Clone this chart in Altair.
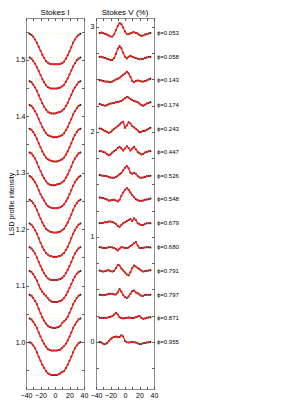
import altair as alt
import pandas as pd

# ---------------- data ----------------
velocity = [-35, -32.5, -30, -27.5, -25, -22.5, -20, -17.5, -15, -12.5, -10, -7.5, -5, -2.5, 0,
            2.5, 5, 7.5, 10, 12.5, 15, 17.5, 20, 22.5, 25, 27.5, 30, 32.5, 35]

phases = ["0.053", "0.058", "0.143", "0.174", "0.243", "0.447", "0.526",
          "0.548", "0.679", "0.680", "0.791", "0.797", "0.871", "0.955"]

# continuum level of each Stokes I profile (stacked, top to bottom)
i_continuum = [1.546, 1.504, 1.462, 1.420, 1.378, 1.336, 1.294,
               1.252, 1.210, 1.168, 1.126, 1.084, 1.042, 1.000]
# zero level of each Stokes V profile (stacked, top to bottom)
v_baseline = [2.94, 2.71, 2.49, 2.26, 2.03, 1.81, 1.58,
              1.36, 1.13, 0.90, 0.68, 0.45, 0.23, 0.00]

# Stokes I line depth below continuum (units of 1e-3)
i_depth = [
    [0, 2, 5, 10, 16, 23, 30, 37, 43, 48, 51, 53, 54, 54, 54, 54, 54, 53, 52, 49, 44, 38, 31, 24, 16, 10, 5, 2, 0],
    [0, 2, 6, 11, 17, 24, 31, 38, 44, 49, 52, 54, 55, 55, 55, 55, 54, 53, 51, 48, 43, 37, 30, 23, 16, 10, 5, 2, 0],
    [0, 2, 6, 11, 17, 25, 32, 39, 45, 50, 54, 56, 57, 57, 57, 56, 55, 54, 52, 49, 44, 38, 31, 24, 17, 11, 6, 2, 0],
    [0, 2, 6, 11, 17, 25, 32, 39, 45, 50, 53, 55, 56, 57, 57, 57, 56, 55, 53, 50, 45, 39, 32, 25, 17, 11, 6, 2, 0],
    [0, 2, 6, 11, 18, 26, 33, 40, 46, 51, 54, 56, 57, 58, 58, 58, 57, 56, 54, 51, 46, 40, 33, 26, 18, 11, 6, 2, 0],
    [0, 2, 6, 11, 18, 26, 33, 40, 46, 51, 55, 57, 58, 58, 58, 57, 56, 55, 53, 50, 45, 39, 32, 25, 17, 11, 6, 2, 0],
    [0, 2, 6, 11, 17, 25, 32, 38, 43, 49, 53, 55, 56, 57, 57, 57, 56, 55, 53, 50, 45, 39, 32, 25, 17, 11, 6, 2, 0],
    [0, 2, 6, 11, 18, 26, 33, 40, 46, 51, 54, 56, 57, 58, 58, 58, 57, 56, 54, 51, 46, 40, 33, 26, 18, 11, 6, 2, 0],
    [0, 2, 6, 12, 18, 26, 34, 41, 47, 52, 55, 57, 58, 59, 59, 59, 58, 57, 55, 52, 47, 41, 34, 26, 18, 12, 6, 2, 0],
    [0, 2, 6, 11, 18, 26, 33, 40, 46, 51, 55, 57, 58, 58, 58, 58, 57, 56, 54, 51, 46, 40, 33, 26, 18, 11, 6, 2, 0],
    [0, 2, 6, 11, 17, 25, 32, 37, 41, 44, 48, 52, 54, 55, 55, 55, 54, 53, 51, 48, 43, 37, 30, 23, 16, 10, 5, 2, 0],
    [0, 2, 6, 11, 17, 25, 33, 40, 46, 51, 55, 57, 58, 59, 59, 58, 57, 55, 50, 47, 44, 39, 32, 25, 17, 11, 6, 2, 0],
    [0, 2, 6, 11, 17, 25, 32, 39, 45, 50, 54, 56, 57, 57, 57, 57, 56, 55, 52, 49, 45, 39, 32, 25, 17, 11, 6, 2, 0],
    [0, 2, 6, 11, 18, 26, 33, 40, 46, 51, 55, 57, 58, 58, 58, 58, 57, 55, 53, 51, 46, 40, 33, 26, 18, 11, 6, 2, 0],
]

# Stokes V (%) relative to each zero level
v_signal = [
    [0.003, 0.006, 0.000, -0.006, -0.013, -0.022, -0.032, -0.032, -0.010, 0.029, 0.070, 0.098, 0.086, 0.054, 0.016,
     -0.010, -0.010, 0.000, 0.006, 0.010, 0.003, -0.003, -0.016, -0.025, -0.022, -0.013, -0.010, -0.003, 0.003],
    [0.006, 0.006, 0.000, -0.006, -0.013, -0.019, -0.025, -0.025, -0.006, 0.032, 0.083, 0.108, 0.086, 0.044, 0.006,
     -0.010, 0.006, 0.016, 0.006, 0.000, -0.006, -0.013, -0.019, -0.019, -0.013, -0.006, 0.000, 0.003, 0.006],
    [0.003, 0.000, -0.006, -0.010, -0.010, -0.013, -0.016, -0.010, 0.000, 0.010, 0.016, 0.025, 0.041, 0.054, 0.067,
     0.083, 0.067, 0.035, -0.006, -0.016, -0.006, 0.000, -0.003, -0.010, -0.010, -0.006, 0.000, 0.010, 0.016],
    [0.006, 0.000, -0.006, -0.010, -0.006, 0.003, 0.010, 0.013, 0.016, 0.022, 0.025, 0.029, 0.035, 0.048, 0.060,
     0.073, 0.067, 0.054, 0.044, 0.035, 0.029, 0.022, 0.010, -0.003, -0.010, 0.000, 0.010, 0.016, 0.022],
    [0.003, 0.000, -0.013, -0.022, -0.029, -0.038, -0.032, -0.016, 0.000, 0.013, 0.025, 0.041, 0.057, 0.067, 0.010,
     0.032, 0.063, 0.051, 0.025, 0.013, 0.000, -0.016, -0.032, -0.029, -0.022, -0.019, -0.010, 0.000, 0.010],
    [0.006, 0.006, 0.000, -0.006, -0.019, -0.032, -0.025, -0.006, 0.006, 0.019, 0.038, 0.048, 0.032, 0.013, 0.032,
     0.054, 0.038, 0.013, 0.032, 0.048, 0.025, 0.000, -0.013, -0.025, -0.019, -0.006, 0.000, 0.006, 0.006],
    [0.010, 0.006, 0.003, 0.000, -0.003, -0.010, -0.013, -0.016, -0.016, -0.010, 0.003, 0.016, 0.029, 0.054, 0.079,
     0.095, 0.073, 0.032, 0.022, 0.032, 0.022, 0.000, -0.013, -0.016, -0.013, -0.010, -0.003, 0.000, 0.003],
    [0.016, 0.013, 0.010, 0.003, -0.003, -0.013, -0.013, -0.006, -0.006, -0.013, -0.022, -0.006, 0.032, 0.063, 0.089,
     0.105, 0.089, 0.063, 0.038, 0.019, 0.000, -0.010, -0.016, -0.016, -0.013, -0.006, -0.003, 0.000, 0.006],
    [0.000, 0.003, 0.006, 0.010, 0.010, 0.016, 0.016, 0.013, 0.006, -0.006, -0.025, -0.035, -0.016, 0.000, 0.010,
     0.022, 0.032, 0.041, 0.022, 0.048, 0.032, 0.000, -0.010, -0.016, -0.016, -0.006, 0.000, 0.000, 0.000],
    [0.003, 0.000, -0.006, -0.006, -0.003, 0.003, 0.003, 0.000, -0.006, -0.016, -0.029, -0.013, 0.003, 0.000, -0.006,
     -0.006, 0.000, 0.013, 0.025, 0.041, 0.051, 0.019, -0.006, -0.006, -0.003, 0.000, 0.003, 0.003, 0.000],
    [0.000, -0.006, -0.010, -0.006, 0.000, 0.003, -0.006, -0.010, -0.003, 0.025, 0.054, 0.048, 0.019, 0.000, -0.019,
     -0.038, -0.045, -0.016, 0.025, 0.048, 0.038, 0.025, 0.013, 0.000, -0.010, -0.006, -0.003, 0.000, 0.003],
    [0.000, -0.003, -0.006, -0.003, 0.003, 0.006, 0.010, 0.010, 0.003, 0.003, 0.022, 0.054, 0.029, -0.003, -0.022,
     -0.032, -0.016, 0.010, 0.035, 0.041, 0.022, 0.013, 0.003, -0.010, -0.010, -0.003, 0.000, 0.000, 0.000],
    [0.000, 0.000, -0.003, 0.000, 0.000, 0.006, 0.010, 0.016, 0.032, 0.048, 0.032, 0.006, -0.003, -0.006, -0.003,
     0.000, 0.003, 0.000, -0.003, 0.000, 0.006, 0.013, 0.016, 0.000, -0.010, -0.006, 0.000, 0.003, 0.006],
    [0.000, -0.006, -0.016, -0.022, -0.013, 0.006, 0.025, 0.041, 0.048, 0.051, 0.044, 0.048, 0.063, 0.051, 0.010,
     -0.003, -0.006, -0.003, 0.000, -0.003, -0.006, -0.013, -0.019, -0.019, -0.013, -0.010, -0.006, -0.003, 0.000],
]

x_ticks = [-40, -20, 0, 20, 40]
x_minor = [-40, -30, -20, -10, 0, 10, 20, 30, 40]
i_ticks = [1.0, 1.1, 1.2, 1.3, 1.4, 1.5]
i_minor = [0.95, 1.0, 1.05, 1.1, 1.15, 1.2, 1.25, 1.3, 1.35, 1.4, 1.45, 1.5, 1.55]
v_ticks = [0, 1, 2, 3]
v_minor = [-0.25, 0, 0.25, 0.5, 0.75, 1, 1.25, 1.5, 1.75, 2, 2.25, 2.5, 2.75, 3]
rule_span = [-36, 36]

# ---------------- tables ----------------
rows_i, rows_v = [], []
for k, ph in enumerate(phases):
    for j, v in enumerate(velocity):
        rows_i.append({"v": v, "I": i_continuum[k] - i_depth[k][j] / 1000.0, "phase": ph})
        rows_v.append({"v": v, "V": v_baseline[k] + v_signal[k][j], "phase": ph})
df_i = pd.DataFrame(rows_i)
df_v = pd.DataFrame(rows_v)
df_ri = pd.DataFrame({"x": [rule_span[0]] * 14, "x2": [rule_span[1]] * 14, "y": i_continuum})
df_rv = pd.DataFrame({"x": [rule_span[0]] * 14, "x2": [rule_span[1]] * 14, "y": v_baseline})
df_lab = pd.DataFrame({"x": [40] * 14, "y": v_baseline, "label": ["\u03d5=" + p for p in phases]})

W, H = 58, 371
xs = alt.Scale(domain=[-40, 40], nice=False, zero=False)
ys_i = alt.Scale(domain=[0.917, 1.574], nice=False, zero=False)
ys_v = alt.Scale(domain=[-0.448, 3.085], nice=False, zero=False)

x_lab_axis = alt.Axis(values=x_ticks, title=None, labelFontSize=7, labelPadding=2,
                      labelOverlap=False, labelFlush=False, labelBound=False,
                      ticks=False, domain=False, grid=False, orient="bottom")


def tick_axis(orient, vals):
    return alt.Axis(orient=orient, values=vals, labels=False, title=None, domain=False,
                    grid=False, ticks=True, tickSize=2.5, offset=-2.5, tickColor="#333333",
                    tickWidth=0.8)


rule_style = dict(color="#eeea9a", strokeDash=[1, 2], strokeWidth=1)

# ---- Stokes I panel ----
ri = alt.Chart(df_ri).mark_rule(**rule_style).encode(
    x=alt.X("x:Q", scale=xs, axis=x_lab_axis),
    x2="x2:Q",
    y=alt.Y("y:Q", scale=ys_i,
            axis=alt.Axis(values=i_ticks, format=".1f", title="LSD profile intensity",
                          labelFontSize=7, labelPadding=1, titleFontSize=7, ticks=False,
                          domain=False, grid=False, orient="left",
                          titleFontWeight="normal", titlePadding=1)),
)
pi = alt.Chart(df_i).mark_circle(size=4, color="black", opacity=1).encode(
    x=alt.X("v:Q", scale=xs, axis=tick_axis("bottom", x_minor)),
    y=alt.Y("I:Q", scale=ys_i, axis=tick_axis("left", i_minor)))
li = alt.Chart(df_i).mark_line(color="#ff1a1a", strokeWidth=1.3).encode(
    x=alt.X("v:Q", scale=xs, axis=tick_axis("top", x_minor)),
    y=alt.Y("I:Q", scale=ys_i, axis=tick_axis("right", i_minor)),
    detail="phase:N", order="v:Q")
left = alt.layer(ri, pi, li).resolve_axis(x="independent", y="independent").properties(
    width=W, height=H,
    title=alt.TitleParams("Stokes I", fontSize=8, fontWeight="normal", offset=1))

# ---- Stokes V panel ----
rv = alt.Chart(df_rv).mark_rule(**rule_style).encode(
    x=alt.X("x:Q", scale=xs, axis=x_lab_axis),
    x2="x2:Q",
    y=alt.Y("y:Q", scale=ys_v,
            axis=alt.Axis(values=v_ticks, format="d", title=None, labelFontSize=7,
                          labelPadding=2, ticks=False, domain=False, grid=False, orient="left")),
)
pv = alt.Chart(df_v).mark_circle(size=4, color="black", opacity=1).encode(
    x=alt.X("v:Q", scale=xs, axis=tick_axis("bottom", x_minor)),
    y=alt.Y("V:Q", scale=ys_v, axis=tick_axis("left", v_minor)))
lv = alt.Chart(df_v).mark_line(color="#ff1a1a", strokeWidth=1.3).encode(
    x=alt.X("v:Q", scale=xs, axis=tick_axis("top", x_minor)),
    y=alt.Y("V:Q", scale=ys_v, axis=tick_axis("right", v_minor)),
    detail="phase:N", order="v:Q")
tv = alt.Chart(df_lab).mark_text(align="left", baseline="middle", dx=3, fontSize=6, color="black").encode(
    x=alt.X("x:Q", scale=xs, axis=None), y=alt.Y("y:Q", scale=ys_v, axis=None), text="label:N")
right = alt.layer(rv, pv, lv, tv).resolve_axis(x="independent", y="independent").properties(
    width=W, height=H,
    title=alt.TitleParams("Stokes V (%)", fontSize=8, fontWeight="normal", offset=1))

chart = alt.hconcat(left, right, spacing=0).properties(
    padding={"left": -2, "top": 0, "right": 5, "bottom": 0}
).configure(font="Liberation Sans").configure_view(
    stroke="#8c8c8c", strokeWidth=1
).configure_axis(labelColor="black", titleColor="black")

chart.save("out.html", embed_options={"renderer": "svg", "actions": False})
